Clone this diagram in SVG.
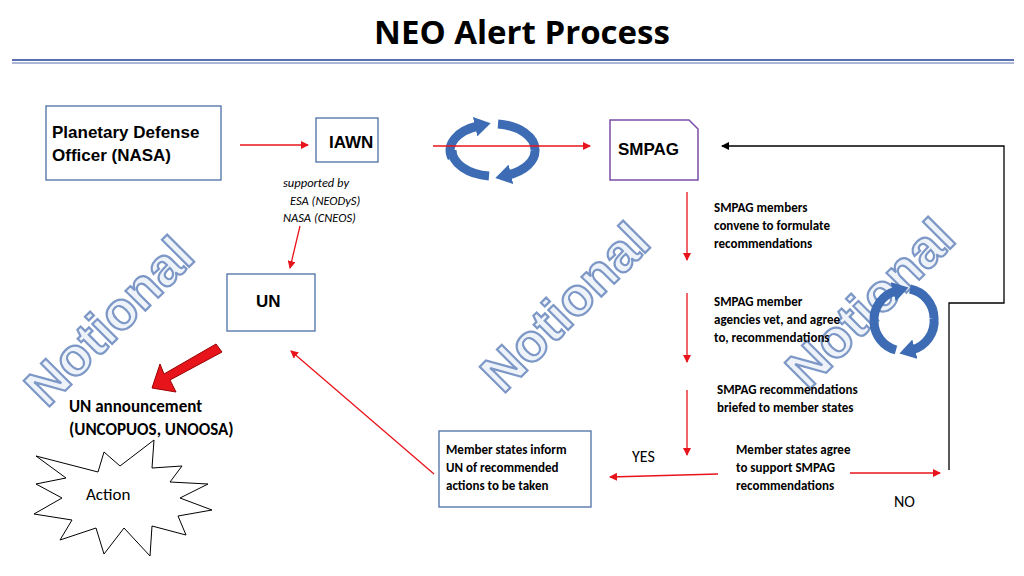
<svg xmlns="http://www.w3.org/2000/svg" width="1024" height="576" viewBox="0 0 1024 576">
<style>
.b{font-family:"Liberation Sans",Arial,sans-serif;font-weight:bold;font-size:17px;fill:#000}
.c{font-family:Carlito,"Open Sans","Liberation Sans",sans-serif;font-weight:bold;font-size:13px;fill:#000}
.n{font-family:"Liberation Sans",Arial,sans-serif;font-weight:bold;font-size:53px;fill:#eef3fa;stroke:#7d98c6;stroke-width:2.2}
.r{stroke:#e8141c;stroke-width:1.3;fill:none;marker-end:url(#ah)}
.box{fill:#fff;stroke:#4a6fa5;stroke-width:1.3}
.cyc{fill:none;stroke:#3d6cb5;stroke-width:9}
</style>
<defs>
<marker id="ah" markerWidth="8" markerHeight="8" refX="7" refY="4" orient="auto" markerUnits="userSpaceOnUse"><path d="M0,0 L8,4 L0,8 z" fill="#e8141c"/></marker>
<marker id="ak" markerWidth="8" markerHeight="8" refX="7" refY="4" orient="auto" markerUnits="userSpaceOnUse"><path d="M0,0 L8,4 L0,8 z" fill="#000"/></marker>
<marker id="bh" markerWidth="18" markerHeight="20" refX="3" refY="10" orient="auto" markerUnits="userSpaceOnUse"><path d="M0,0 L16,10 L0,20 z" fill="#3d6cb5"/></marker>
</defs>
<rect width="1024" height="576" fill="#fff"/>
<text x="522" y="44" text-anchor="middle" style="font-family:'Open Sans','Liberation Sans',sans-serif;font-size:33px;font-weight:bold">NEO Alert Process</text>
<line x1="12" y1="60" x2="1014" y2="60" stroke="#5a6fb0" stroke-width="2"/>
<line x1="12" y1="63" x2="1014" y2="63" stroke="#5a6fb0" stroke-width="1"/>

<g id="watermarks">
<text class="n" transform="translate(122,334) rotate(-45)" text-anchor="middle">Notional</text>
<text class="n" transform="translate(578,320) rotate(-45)" text-anchor="middle">Notional</text>
<text class="n" transform="translate(883,316) rotate(-45)" text-anchor="middle">Notional</text>
</g>

<g id="pdo"><rect class="box" x="46" y="106" width="175" height="74"/><text class="b" x="52" y="138">Planetary Defense</text><text class="b" x="52" y="161">Officer (NASA)</text></g>
<g id="iawn"><rect class="box" x="316" y="118" width="62" height="44"/><text class="b" x="329" y="148">IAWN</text></g>
<g id="support" style="font-family:Carlito,'Open Sans',sans-serif;font-style:italic;font-size:12.5px"><text x="283" y="187">supported by</text><text x="290" y="205">ESA (NEODyS)</text><text x="283" y="222">NASA (CNEOS)</text></g>
<g id="smpag"><path d="M610,120 H689 L698,129 V180 H610 Z" fill="#fff" stroke="#7a4fa8" stroke-width="1.5"/><text class="b" x="618" y="155">SMPAG</text></g>
<g id="un"><rect class="box" x="227" y="274" width="88" height="57"/><text class="b" x="256" y="307">UN</text></g>
<g id="s1"><text class="c" x="714" y="212">SMPAG members</text><text class="c" x="714" y="230">convene to formulate</text><text class="c" x="714" y="248">recommendations</text></g>
<g id="s2"><text class="c" x="714" y="306">SMPAG member</text><text class="c" x="714" y="324">agencies vet, and agree</text><text class="c" x="714" y="342">to, recommendations</text></g>
<g id="s3"><text class="c" x="717" y="394">SMPAG recommendations</text><text class="c" x="717" y="412">briefed to member states</text></g>
<g id="s4"><text class="c" x="736" y="454">Member states agree</text><text class="c" x="736" y="472">to support SMPAG</text><text class="c" x="736" y="490">recommendations</text></g>
<g id="inform"><rect class="box" x="439" y="431" width="152" height="76"/><text class="c" x="446" y="454">Member states inform</text><text class="c" x="446" y="472">UN of recommended</text><text class="c" x="446" y="490">actions to be taken</text></g>
<g id="yes"><text x="632" y="462" style="font-family:Carlito,'Open Sans',sans-serif;font-size:16px">YES</text></g>
<g id="no"><text x="894" y="507" style="font-family:Carlito,'Open Sans',sans-serif;font-size:16px">NO</text></g>
<g id="announce"><text class="b" x="69" y="412" style="font-family:Carlito,'Open Sans',sans-serif">UN announcement</text><text class="b" x="69" y="435" style="font-family:Carlito,'Open Sans',sans-serif">(UNCOPUOS, UNOOSA)</text></g>
<g id="action"><path d="M36,456 L98,472 L104,452 L120,466 L154,440 L152,468 L182,466 L170,482 L208,484 L180,498 L212,510 L178,516 L186,535 L152,526 L150,556 L124,528 L104,554 L96,528 L60,540 L72,520 L34,514 L62,498 L36,484 L66,478 Z" fill="#fff" stroke="#000" stroke-width="1"/><text x="86" y="500" style="font-family:Carlito,'Open Sans',sans-serif;font-size:17px">Action</text></g>

<g id="cycle1"><path class="cyc" d="M452,158 A42,26 0 0 1 478,126" marker-end="url(#bh)"/><path class="cyc" d="M498,124 A42,26 0 0 1 535,150"/><path class="cyc" d="M535,150 A42,26 0 0 1 508,175" marker-end="url(#bh)"/><path class="cyc" d="M489,176 A42,26 0 0 1 452,150"/></g>
<g id="cycle2"><path class="cyc" d="M874,322 A30,30 0 0 1 896,291" marker-end="url(#bh)"/><path class="cyc" d="M910,289 A30,30 0 0 1 934,318"/><path class="cyc" d="M934,318 A30,30 0 0 1 912,350" marker-end="url(#bh)"/><path class="cyc" d="M896,350 A30,30 0 0 1 874,322"/></g>

<g id="connectors">
<line class="r" x1="240" y1="145" x2="308" y2="145"/>
<line class="r" x1="433" y1="146" x2="590" y2="146"/>
<line class="r" x1="300" y1="226" x2="290" y2="268"/>
<line class="r" x1="687" y1="192" x2="687" y2="260"/>
<line class="r" x1="687" y1="293" x2="687" y2="362"/>
<line class="r" x1="687" y1="390" x2="687" y2="455"/>
<line class="r" x1="718" y1="474" x2="610" y2="477"/>
<line class="r" x1="434" y1="474" x2="291" y2="351"/>
<line class="r" x1="850" y1="473" x2="940" y2="473"/>
<path d="M949,470 V303 H1004 V146 H722" fill="none" stroke="#000" stroke-width="1.3" marker-end="url(#ak)"/>
<path d="M216,344 L222,352 L170,380 L176,392 L152,388 L160,364 L164,374 Z" fill="#e8141c" stroke="#9a0000" stroke-width="1"/>
</g>
</svg>
